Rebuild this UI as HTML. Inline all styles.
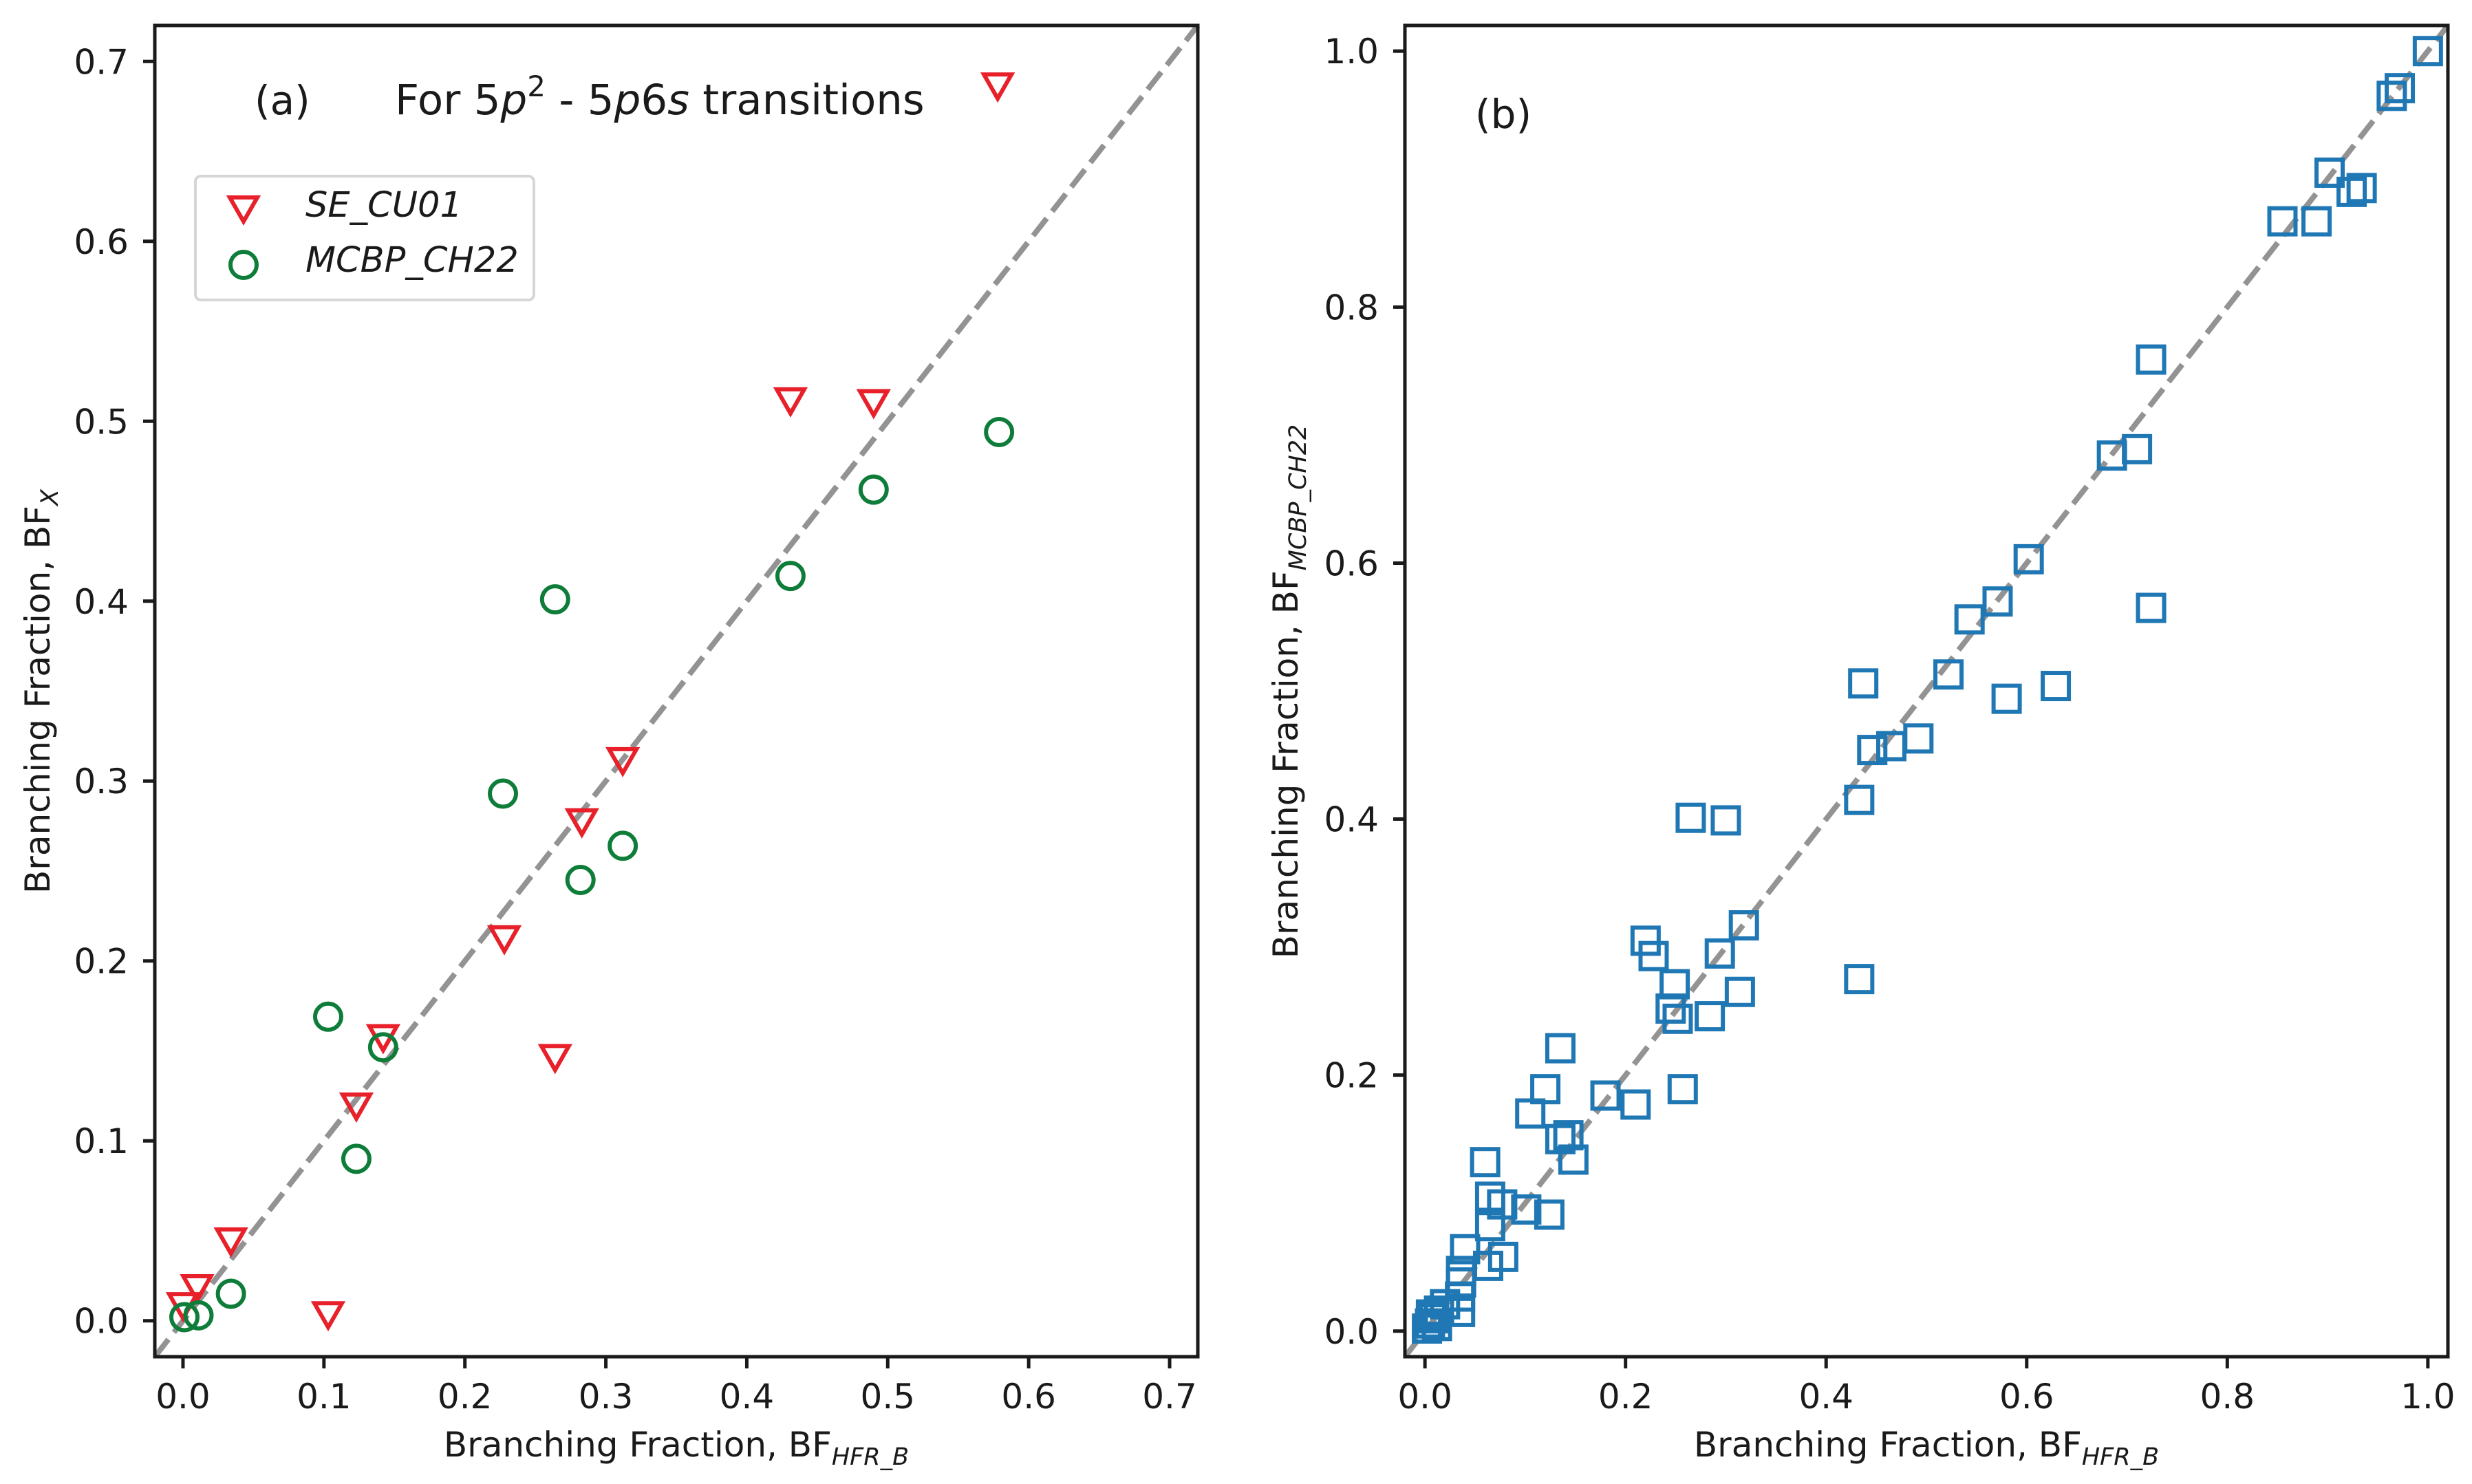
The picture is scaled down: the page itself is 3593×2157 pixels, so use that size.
<!DOCTYPE html>
<html><head><meta charset="utf-8"><style>html,body{margin:0;padding:0;background:#fff}svg{display:block}text{font-family:"DejaVu Sans","Liberation Sans",sans-serif;fill:#1a1a1a}</style></head>
<body>
<svg id="fig" xmlns="http://www.w3.org/2000/svg" width="3593" height="2157" viewBox="0 0 3593 2157"></svg>
<script>
// Panel (a) data
const seX = [0.578,0.431,0.490,0.312,0.283,0.228,0.264,0.142,0.123,0.034,0.010,0.000,0.103];
const seY = [0.687,0.512,0.511,0.312,0.278,0.213,0.147,0.158,0.120,0.045,0.019,0.009,0.004];
const mcX = [0.579,0.490,0.431,0.264,0.227,0.312,0.282,0.103,0.142,0.123,0.034,0.011,0.001];
const mcY = [0.494,0.462,0.414,0.401,0.293,0.264,0.245,0.169,0.152,0.090,0.015,0.003,0.002];
const ticksA = [0.0,0.1,0.2,0.3,0.4,0.5,0.6,0.7];
const tickLabelsA = ["0.0","0.1","0.2","0.3","0.4","0.5","0.6","0.7"];
// Panel (b) data
const sqX = [1.0,0.972,0.964,0.902,0.924,0.934,0.855,0.889,0.724,0.710,0.685,0.724,0.602,0.571,0.543,0.522,0.580,0.629,0.492,0.465,0.446,0.437,0.433,0.433,0.265,0.300,0.318,0.294,0.314,0.284,0.220,0.228,0.249,0.245,0.252,0.257,0.210,0.180,0.135,0.120,0.105,0.135,0.143,0.148,0.124,0.101,0.060,0.065,0.077,0.065,0.078,0.063,0.040,0.036,0.036,0.035,0.035,0.020,0.014,0.009,0.005,0.002,0.006,0.012];
const sqY = [1.0,0.971,0.965,0.905,0.890,0.893,0.867,0.867,0.759,0.689,0.684,0.565,0.603,0.570,0.556,0.513,0.494,0.504,0.463,0.457,0.454,0.506,0.415,0.275,0.401,0.399,0.317,0.295,0.265,0.246,0.305,0.293,0.271,0.252,0.244,0.189,0.177,0.184,0.221,0.189,0.170,0.150,0.153,0.134,0.091,0.095,0.132,0.105,0.099,0.082,0.058,0.051,0.064,0.047,0.038,0.027,0.015,0.021,0.016,0.010,0.006,0.002,0.013,0.004];
const ticksB = [0.0,0.2,0.4,0.6,0.8,1.0];
const tickLabelsB = ["0.0","0.2","0.4","0.6","0.8","1.0"];

const NS="http://www.w3.org/2000/svg";
const svg=document.getElementById('fig');
function mk(tag,attrs,parent){const e=document.createElementNS(NS,tag);for(const k in attrs)e.setAttribute(k,attrs[k]);(parent||svg).appendChild(e);return e;}

function panel(L,R,T,B,lo,hi,ticks,labels,name){
  const g=mk('g',{});
  
  
  const sx=v=>L+(v-lo)/(hi-lo)*(R-L);
  const sy=v=>B-(v-lo)/(hi-lo)*(B-T);
  ticks.forEach((t,i)=>{
    const xt=mk('line',{x1:sx(t),x2:sx(t),y1:B,y2:B+17,stroke:'#1a1a1a','stroke-width':5},g);
    
    
    const xl=mk('text',{x:sx(t),y:2047,'font-size':50,'text-anchor':'middle'},g);xl.textContent=labels[i];
    
    
    const yt=mk('line',{x1:L-17,x2:L,y1:sy(t),y2:sy(t),stroke:'#1a1a1a','stroke-width':5},g);
    
    
    const yl=mk('text',{x:L-38,y:sy(t)+18,'font-size':50,'text-anchor':'end'},g);yl.textContent=labels[i];
    
    
  });
  const diag=mk('line',{x1:sx(lo),y1:sy(lo),x2:sx(hi),y2:sy(hi),stroke:'#939393','stroke-width':8,'stroke-dasharray':'32 13'},g);
  
  
  return {g,sx,sy,L,R,T,B};
}
function frame(p){
  const f=mk('rect',{x:p.L,y:p.T,width:p.R-p.L,height:p.B-p.T,fill:'none',stroke:'#1a1a1a','stroke-width':5},p.g);
  
  
}
function tri(g,cx,cy,col){return mk('polygon',{points:`${cx-20},${cy-15} ${cx+20},${cy-15} ${cx},${cy+20}`,fill:'none',stroke:col,'stroke-width':6},g);}
function circ(g,cx,cy,col){return mk('circle',{cx:cx,cy:cy,r:19,fill:'none',stroke:col,'stroke-width':6},g);}
const RED='#e8202a', GRN='#0f7d3a', BLU='#1f77b4';

// Panel A
const A=panel(225,1741,37,1972,-0.02,0.72,ticksA,tickLabelsA,'panel-a');
seX.forEach((x,i)=>{const m=tri(A.g,A.sx(x),A.sy(seY[i]),RED);
  
  });
mcX.forEach((x,i)=>{const m=circ(A.g,A.sx(x),A.sy(mcY[i]),GRN);
  
  });
frame(A);

// Panel B
const Bp=panel(2042,3558,37,1972,-0.02,1.02,ticksB,tickLabelsB,'panel-b');
sqX.forEach((x,i)=>{const m=mk('rect',{x:Bp.sx(x)-19,y:Bp.sy(sqY[i])-19,width:38,height:38,fill:'none',stroke:BLU,'stroke-width':6},Bp.g);
  
  });
frame(Bp);
</script>
<svg style="position:absolute;left:0;top:0" width="3593" height="2157" xmlns="http://www.w3.org/2000/svg">
  <text x="370" y="166" font-size="58">(a)</text>
  <text x="574" y="166" font-size="61">For 5<tspan font-style="italic">p</tspan><tspan dy="-26" font-size="42">2</tspan><tspan dy="26"> - 5</tspan><tspan font-style="italic">p</tspan>6<tspan font-style="italic">s</tspan> transitions</text>
  <g>
    <rect x="284" y="256" width="492" height="180" rx="8" fill="#fff" fill-opacity="0.8" stroke="#d6d6d6" stroke-width="4"/>
    <polygon points="334,287 374,287 354,322" fill="none" stroke="#e8202a" stroke-width="6"/>
    <text x="444" y="315" font-size="51" font-style="italic">SE_CU01</text>
    <circle cx="354" cy="385" r="19" fill="none" stroke="#0f7d3a" stroke-width="6"/>
    <text x="444" y="395" font-size="51" font-style="italic">MCBP_CH22</text>
  </g>
  <text x="2144" y="186" font-size="58">(b)</text>
  <text x="983" y="2117" font-size="50" text-anchor="middle">Branching Fraction, BF<tspan font-size="35" font-style="italic" dy="12">HFR_B</tspan></text>
  <text x="2800" y="2117" font-size="50" text-anchor="middle">Branching Fraction, BF<tspan font-size="35" font-style="italic" dy="12">HFR_B</tspan></text>
  <text transform="translate(72,1005) rotate(-90)" font-size="50" text-anchor="middle">Branching Fraction, BF<tspan font-size="35" font-style="italic" dy="12">X</tspan></text>
  <text transform="translate(1886,1005) rotate(-90)" font-size="50" text-anchor="middle">Branching Fraction, BF<tspan font-size="35" font-style="italic" dy="12">MCBP_CH22</tspan></text>
</svg>
</body></html>
